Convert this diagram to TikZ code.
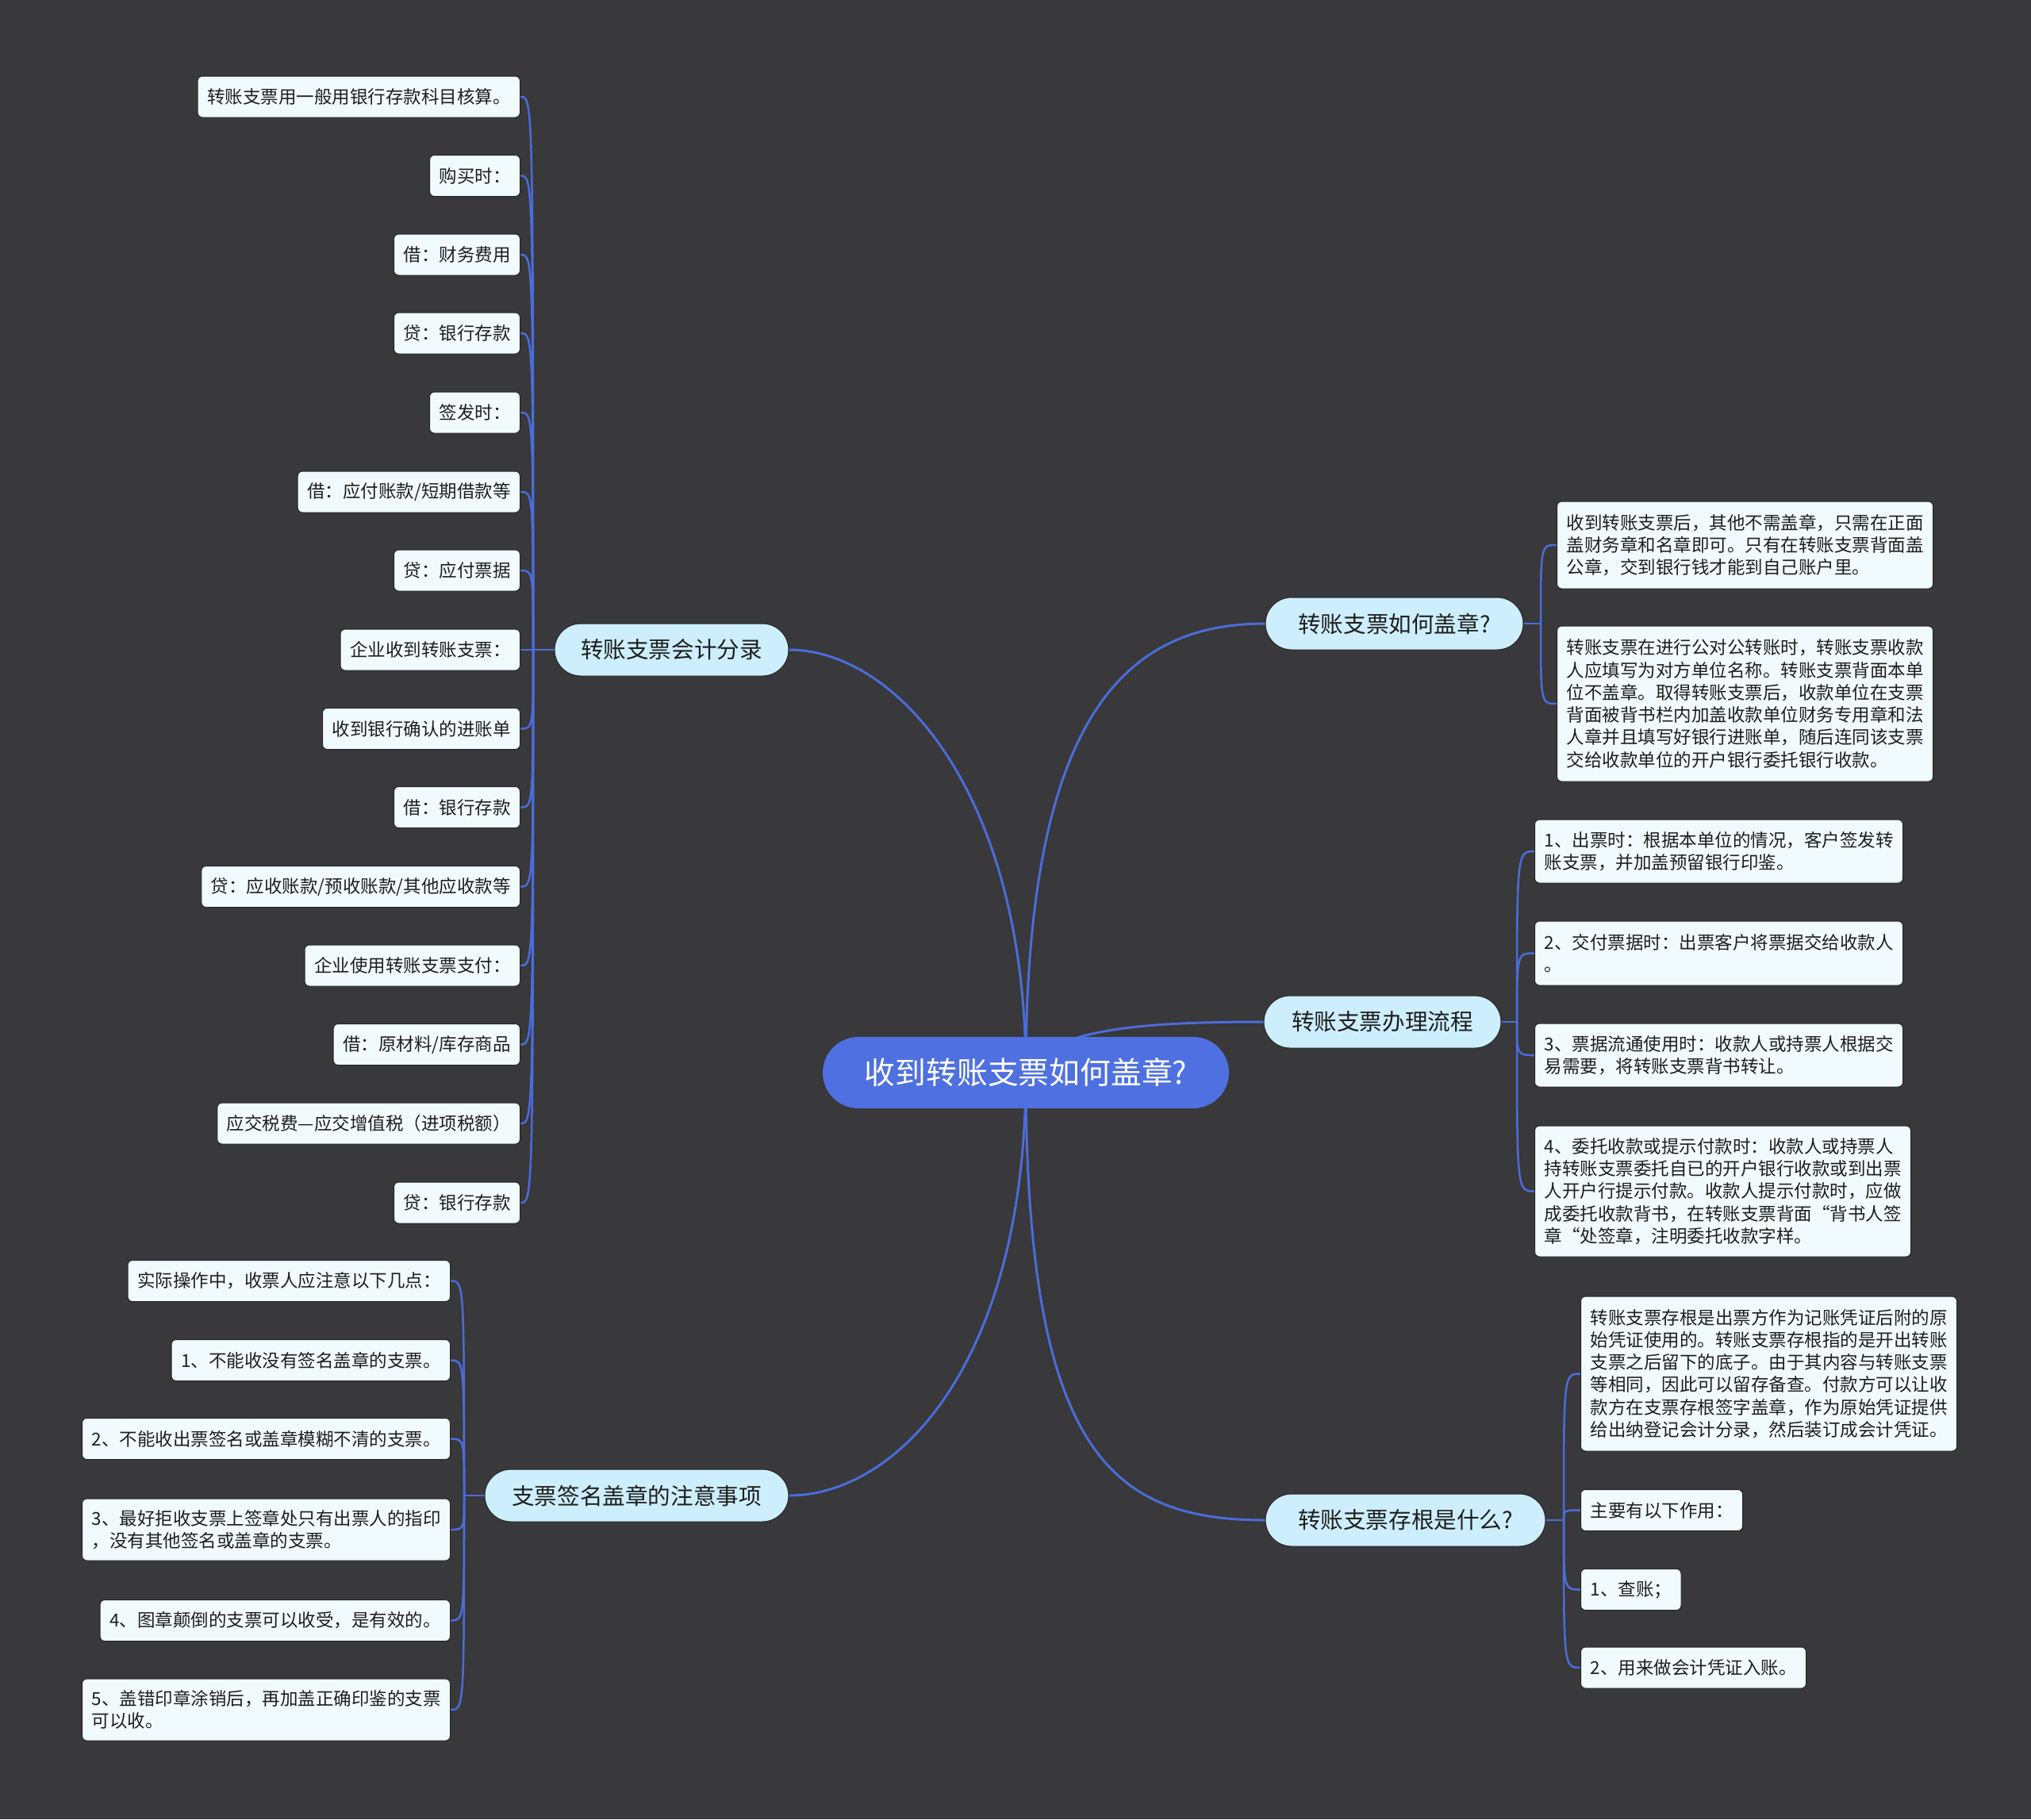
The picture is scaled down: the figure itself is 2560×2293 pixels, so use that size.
\documentclass[tikz,border=0pt]{standalone}
\usepackage{fontspec}
\newfontfamily\cjk{Noto Sans CJK SC}
\definecolor{bgc}{HTML}{39383A}
\definecolor{linec}{HTML}{4B6CDA}
\definecolor{rootfill}{HTML}{4F70E0}
\definecolor{brfill}{HTML}{CDEEFC}
\definecolor{leaffill}{HTML}{F1FAFD}
\definecolor{textc}{HTML}{1E1E1E}
\newcommand\leaffont{\cjk\fontsize{11.25pt}{14.15pt}\selectfont}
\newcommand\brfont{\cjk\fontsize{14.3pt}{17pt}\selectfont}
\newcommand\rtfont{\cjk\fontsize{19.4pt}{22pt}\selectfont}
\pgfdeclarelayer{bg}
\pgfdeclarelayer{lines}
\pgfsetlayers{bg,lines,main}
\tikzset{
  leaf/.style={draw=black!85, line width=0.5pt, fill=leaffill, rounded corners=3pt,
    inner xsep=6pt, inner ysep=0pt, font=\leaffont, text=textc, align=left, minimum height=26pt},
  branch/.style={draw=black!85, line width=0.5pt, fill=brfill, rounded corners=16.5pt,
    minimum height=33pt, inner xsep=0pt, font=\brfont, text=textc},
  rootnode/.style={fill=rootfill, rounded corners=22.5pt, minimum height=45pt,
    minimum width=256pt, inner xsep=0pt, font=\rtfont, text=white},
  conn/.style={draw=linec, line width=1.5pt},
  sub/.style={draw=linec, line width=1.25pt},
}
\begin{document}
\begin{tikzpicture}[x=0.5pt,y=-0.5pt]
\useasboundingbox (0,0) rectangle (2560,2293);
\begin{pgfonlayer}{bg}
\fill[bgc] (0,0) rectangle (2560,2293);
\end{pgfonlayer}

% root
\node[rootnode] (root) at (1293,1352) {收到转账支票如何盖章?};

% branches
\node[branch, minimum width=147.5pt] (lu) at (846.5,819) {转账支票会计分录};
\node[branch, minimum width=191.5pt] (ll) at (802.5,1885) {支票签名盖章的注意事项};
\node[branch, minimum width=162.5pt] (b1) at (1757.5,786) {转账支票如何盖章?};
\node[branch, minimum width=149.5pt] (b2) at (1742.5,1288) {转账支票办理流程};
\node[branch, minimum width=176.5pt] (b3) at (1771.5,1916) {转账支票存根是什么?};

% left upper leaves
\node[leaf, anchor=east] (u1) at (656,122) {转账支票用一般用银行存款科目核算。};
\node[leaf, anchor=east] (u2) at (656,221.5) {购买时：};
\node[leaf, anchor=east] (u3) at (656,321) {借：财务费用};
\node[leaf, anchor=east] (u4) at (656,420) {贷：银行存款};
\node[leaf, anchor=east] (u5) at (656,520) {签发时：};
\node[leaf, anchor=east] (u6) at (656,620) {借：应付账款/短期借款等};
\node[leaf, anchor=east] (u7) at (656,719) {贷：应付票据};
\node[leaf, anchor=east] (u8) at (656,819) {企业收到转账支票：};
\node[leaf, anchor=east] (u9) at (656,918.5) {收到银行确认的进账单};
\node[leaf, anchor=east] (u10) at (656,1017.5) {借：银行存款};
\node[leaf, anchor=east] (u11) at (656,1117.5) {贷：应收账款/预收账款/其他应收款等};
\node[leaf, anchor=east] (u12) at (656,1217) {企业使用转账支票支付：};
\node[leaf, anchor=east] (u13) at (656,1316.5) {借：原材料/库存商品};
\node[leaf, anchor=east] (u14) at (656,1416) {应交税费—应交增值税（进项税额）};
\node[leaf, anchor=east] (u15) at (656,1516) {贷：银行存款};

% left lower leaves
\node[leaf, anchor=east] (d1) at (568,1614.5) {实际操作中，收票人应注意以下几点：};
\node[leaf, anchor=east] (d2) at (568,1714.5) {1、不能收没有签名盖章的支票。};
\node[leaf, anchor=east] (d3) at (568,1813.5) {2、不能收出票签名或盖章模糊不清的支票。};
\node[leaf, anchor=east, minimum height=39pt] (d4) at (568,1928) {3、最好拒收支票上签章处只有出票人的指印\\，没有其他签名或盖章的支票。};
\node[leaf, anchor=east] (d5) at (568,2042.5) {4、图章颠倒的支票可以收受，是有效的。};
\node[leaf, anchor=east, minimum height=39pt] (d6) at (568,2155) {5、盖错印章涂销后，再加盖正确印鉴的支票\\可以收。};

% right leaves group 1
\node[leaf, anchor=west, minimum height=55pt] (r1a) at (1962,687) {收到转账支票后，其他不需盖章，只需在正面\\盖财务章和名章即可。只有在转账支票背面盖\\公章，交到银行钱才能到自己账户里。};
\node[leaf, anchor=west, minimum height=98pt] (r1b) at (1962,887) {转账支票在进行公对公转账时，转账支票收款\\人应填写为对方单位名称。转账支票背面本单\\位不盖章。取得转账支票后，收款单位在支票\\背面被背书栏内加盖收款单位财务专用章和法\\人章并且填写好银行进账单，随后连同该支票\\交给收款单位的开户银行委托银行收款。};

% right leaves group 2
\node[leaf, anchor=west, minimum height=40pt] (r2a) at (1934,1073) {1、出票时：根据本单位的情况，客户签发转\\账支票，并加盖预留银行印鉴。};
\node[leaf, anchor=west, minimum height=40.5pt] (r2b) at (1934,1201.5) {2、交付票据时：出票客户将票据交给收款人\\。};
\node[leaf, anchor=west, minimum height=40pt] (r2c) at (1934,1330) {3、票据流通使用时：收款人或持票人根据交\\易需要，将转账支票背书转让。};
\node[leaf, anchor=west, minimum height=82.5pt] (r2d) at (1934,1501.5) {4、委托收款或提示付款时：收款人或持票人\\持转账支票委托自已的开户银行收款或到出票\\人开户行提示付款。收款人提示付款时，应做\\成委托收款背书，在转账支票背面“背书人签\\章“处签章，注明委托收款字样。};

% right leaves group 3
\node[leaf, anchor=west, minimum height=97.5pt] (r3a) at (1992,1731.5) {转账支票存根是出票方作为记账凭证后附的原\\始凭证使用的。转账支票存根指的是开出转账\\支票之后留下的底子。由于其内容与转账支票\\等相同，因此可以留存备查。付款方可以让收\\款方在支票存根签字盖章，作为原始凭证提供\\给出纳登记会计分录，然后装订成会计凭证。};
\node[leaf, anchor=west] (r3b) at (1992,1903.5) {主要有以下作用：};
\node[leaf, anchor=west] (r3c) at (1992,2003.5) {1、查账；};
\node[leaf, anchor=west] (r3d) at (1992,2102) {2、用来做会计凭证入账。};

% junctions
\coordinate (jlu) at (672,819);
\coordinate (jll) at (585,1885);
\coordinate (j1) at (1942,786);
\coordinate (j2) at (1912,1288);
\coordinate (j3) at (1971,1916);

\begin{pgfonlayer}{lines}
\draw[conn] (root.center) .. controls (1293,1000) and (1130,819) .. (lu.east);
\draw[conn] (root.center) .. controls (1293,1720) and (1130,1885) .. (ll.east);
\draw[conn] (root.center) .. controls (1293,900) and (1420,786) .. (b1.west);
\draw[conn] (root.center) .. controls (1320,1295) and (1450,1288) .. (b2.west);
\draw[conn] (root.center) .. controls (1293,1830) and (1400,1916) .. (b3.west);

\draw[sub] (lu.west) -- (jlu);
\foreach \n in {u1,u2,u3,u4,u5,u6,u7,u8,u9,u10,u11,u12,u13,u14,u15}
  \draw[sub] (jlu) .. controls (jlu |- \n.east) .. (\n.east);
\draw[sub] (ll.west) -- (jll);
\foreach \n in {d1,d2,d3,d4,d5,d6}
  \draw[sub] (jll) .. controls (jll |- \n.east) .. (\n.east);
\draw[sub] (b1.east) -- (j1);
\foreach \n in {r1a,r1b}
  \draw[sub] (j1) .. controls (j1 |- \n.west) .. (\n.west);
\draw[sub] (b2.east) -- (j2);
\foreach \n in {r2a,r2b,r2c,r2d}
  \draw[sub] (j2) .. controls (j2 |- \n.west) .. (\n.west);
\draw[sub] (b3.east) -- (j3);
\foreach \n in {r3a,r3b,r3c,r3d}
  \draw[sub] (j3) .. controls (j3 |- \n.west) .. (\n.west);
\end{pgfonlayer}
\end{tikzpicture}
\end{document}
